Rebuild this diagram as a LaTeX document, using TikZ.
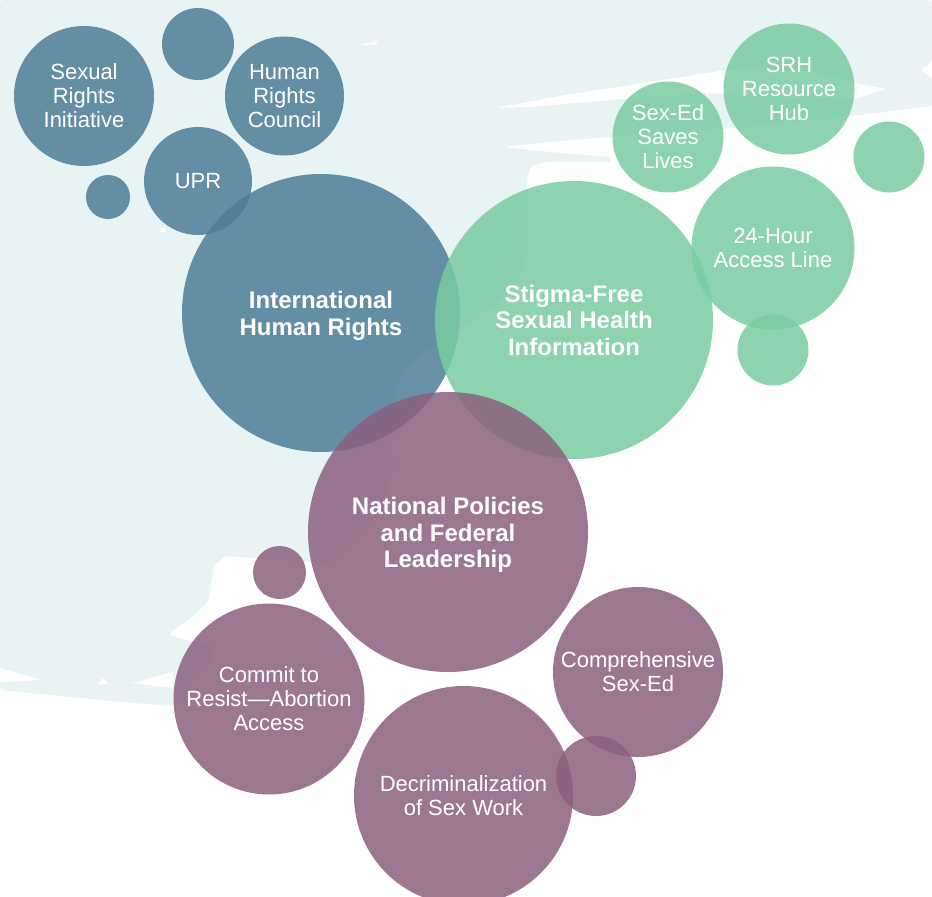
\documentclass[tikz,border=0pt]{standalone}
\usepackage{fontspec}
\setmainfont{Liberation Sans}
\definecolor{bgl}{RGB}{232,243,243}
\definecolor{cblue}{RGB}{78,125,151}
\definecolor{cgreen}{RGB}{121,204,160}
\definecolor{cpurp}{RGB}{139,96,127}
\begin{document}
\begin{tikzpicture}[x=1pt,y=-1pt,
  bub/.style={circle,inner sep=0pt,minimum size=#1,fill opacity=.85,text opacity=1,text=white,align=center},
  blueb/.style={bub=#1,fill=cblue},
  greenb/.style={bub=#1,fill=cgreen},
  purpb/.style={bub=#1,fill=cpurp},
  smalltxt/.style={font=\fontsize{22}{24}\selectfont},
  bigtxt/.style={font=\bfseries\fontsize{24}{26.5}\selectfont}]
\useasboundingbox (0,0) rectangle (932,897);
\fill[white] (0,0) rectangle (932,897);
% light background map
\fill[bgl, rounded corners=3pt] (0,0) -- (932,0) -- (932,62) -- (920,70) -- (932,78) -- (932,106)
  -- (860,115) -- (760,126) -- (660,133) -- (560,141) -- (503,147) -- (560,153) -- (610,157)
  -- (612,162) -- (545,162) -- (531,166) -- (527,178) -- (528,250) -- (520,280) -- (495,305)
  -- (460,330) -- (420,355) -- (398,380) -- (389,420) -- (393,467) -- (383,510) -- (352,540)
  -- (330,565) -- (300,561) -- (226,556) -- (214,565) -- (208,602) -- (192,617) -- (176,628)
  -- (168,635) -- (186,640) -- (210,646) -- (212,662) -- (195,672) -- (185,700) -- (170,706)
  -- (100,700) -- (0,690) -- cycle;
\fill[white, rounded corners=2pt] (496,108) -- (560,96) -- (650,82) -- (726,70) -- (800,70)
  -- (860,84) -- (886,89) -- (855,99) -- (780,96) -- (700,93) -- (600,101) -- (530,107) -- cycle;
\fill[white] (357,45) -- (378,41) -- (376,45) -- cycle;
\fill[white] (163,230) circle (2.5);
\fill[white] (0,668) -- (43,680) -- (0,682) -- cycle;
\fill[white] (132,683) -- (173,672) -- (173,688) -- cycle;
\fill[white] (98,684) -- (103,678) -- (109,684) -- cycle;
% blue
\node[blueb=140pt,smalltxt] (sri) at (84,96) {Sexual\\Rights\\Initiative};
\node[blueb=72pt] (b1) at (198,44) {};
\node[blueb=119pt,smalltxt] (hrc) at (284.5,96) {Human\\Rights\\Council};
\node[blueb=108pt,smalltxt] (upr) at (198,181) {UPR};
\node[blueb=44pt] (b2) at (108,197) {};
\node[blueb=278pt] (ihr) at (321,313) {};
\node[bigtxt,text=white,align=center] (ihrt) at (321,316) {International\\Human Rights};
% green
\node[greenb=131pt,smalltxt] (srh) at (789,89) {SRH\\Resource\\Hub};
\node[greenb=111pt,smalltxt] (sex) at (668,137) {Sex-Ed\\Saves\\Lives};
\node[greenb=71pt] (g1) at (889,157) {};
\node[greenb=163pt,smalltxt] (line) at (773,248) {24-Hour\\Access Line};
\node[greenb=71pt] (g2) at (773,350) {};
\node[greenb=278pt,bigtxt] (stig) at (574,320) {Stigma-Free\\Sexual Health\\Information};
% purple
\node[purpb=280pt] (nat) at (448,532) {};
\node[bigtxt,text=white,align=center] (natt) at (448,535) {National Policies\\and Federal\\Leadership};
\node[purpb=53pt] (p1) at (279.5,572.5) {};
\node[purpb=191pt,smalltxt] (com) at (269,699) {Commit to\\Resist—Abortion\\Access};
\node[purpb=170pt,smalltxt] (cse) at (638,672) {Comprehensive\\Sex-Ed};
\node[purpb=219pt,smalltxt] (dec) at (463.5,795.5) {Decriminalization\\of Sex Work};
\node[purpb=80pt] (p2) at (596,776) {};
\end{tikzpicture}
\end{document}
